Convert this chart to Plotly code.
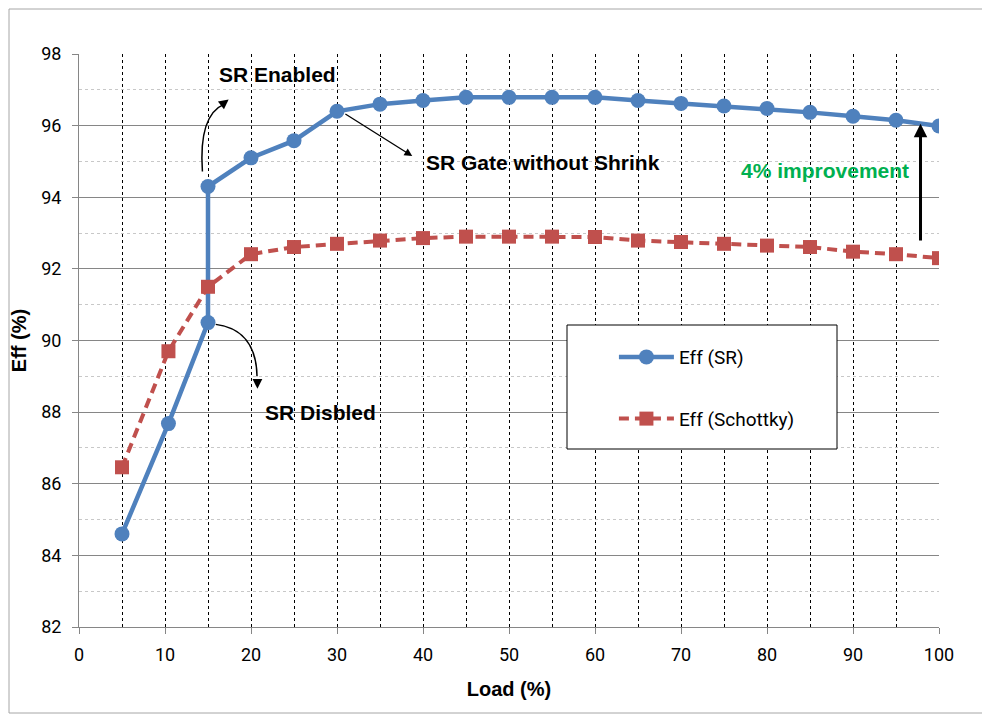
import plotly.graph_objects as go

load_sr = [5, 10.4, 15, 15, 20, 25, 30, 35, 40, 45, 50, 55, 60, 65, 70, 75, 80, 85, 90, 95, 100]
eff_sr = [84.6, 87.68, 90.5, 94.3, 95.1, 95.58, 96.4, 96.6, 96.7, 96.79, 96.79, 96.79, 96.79,
          96.7, 96.62, 96.55, 96.48, 96.37, 96.26, 96.15, 95.99]
load_sch = [5, 10.4, 15, 20, 25, 30, 35, 40, 45, 50, 55, 60, 65, 70, 75, 80, 85, 90, 95, 100]
eff_sch = [86.46, 89.7, 91.5, 92.41, 92.61, 92.7, 92.79, 92.86, 92.9, 92.9, 92.9, 92.89,
           92.79, 92.75, 92.7, 92.65, 92.61, 92.48, 92.41, 92.3]

x_ticks = [0, 10, 20, 30, 40, 50, 60, 70, 80, 90, 100]
y_ticks = [82, 84, 86, 88, 90, 92, 94, 96, 98]

BLUE = "#4f81bd"
RED = "#c0504d"
TICKFONT = dict(family="Roboto, sans-serif", size=18, color="black")
BOLD = dict(family="Liberation Sans, Arial, sans-serif", size=21, color="black")

# page offset (body margin 8px): plot area on page spans x 79..939, y 54..627
OFF = 8
W, H = 990 - OFF, 717 - OFF
PL, PT, PR, PB = 79, 54, 939, 627

def px(x):
    return (x - PL) / (PR - PL)

def py(y):
    return (PB - y) / (PB - PT)

fig = go.Figure()
fig.add_trace(go.Scatter(
    x=load_sr, y=eff_sr, name="Eff (SR)", mode="lines+markers",
    line=dict(color=BLUE, width=4.5),
    marker=dict(symbol="circle", size=15, color=BLUE),
    legendgroup="a"))
fig.add_trace(go.Scatter(
    x=load_sch, y=eff_sch, name="Eff (Schottky)", mode="lines+markers",
    line=dict(color=RED, width=4, dash="10px,6px"),
    marker=dict(symbol="square", size=14, color=RED),
    legendgroup="b"))

fig.update_layout(
    width=W, height=H,
    margin=dict(l=PL - OFF, r=W - (PR - OFF), t=PT - OFF, b=H - (PB - OFF), autoexpand=False),
    paper_bgcolor="white", plot_bgcolor="white",
    showlegend=True,
    legend=dict(x=0.622, y=0.417, xanchor="left", yanchor="middle",
                bgcolor="rgba(0,0,0,0)", borderwidth=0,
                font=dict(family="Roboto, sans-serif", size=19, color="black"),
                traceorder="grouped", tracegroupgap=34, itemwidth=55),
    xaxis=dict(range=[0, 100], tickvals=x_ticks, ticktext=[str(v) for v in x_ticks],
               showgrid=True, gridcolor="black", griddash="dot", gridwidth=1,
               minor=dict(dtick=5, tick0=0, showgrid=True, gridcolor="black", griddash="dot", gridwidth=1),
               showline=True, linecolor="#868686", linewidth=1,
               ticks="outside", ticklen=6, tickcolor="#868686",
               tickfont=TICKFONT, zeroline=False, ticklabelstandoff=5,
               title=dict(text="<b>Load (%)</b>", font=dict(family="Liberation Sans, Arial", size=20, color="black"), standoff=18)),
    yaxis=dict(range=[82, 98], tickvals=y_ticks, ticktext=[str(v) for v in y_ticks],
               showgrid=True, gridcolor="#868686", gridwidth=1,
               minor=dict(dtick=1, tick0=82, showgrid=True, gridcolor="#c8c8c8", griddash="dot", gridwidth=1),
               showline=True, linecolor="#868686", linewidth=1,
               ticks="outside", ticklen=6, tickcolor="#868686",
               tickfont=TICKFONT, zeroline=False, ticklabelstandoff=7,
               title=dict(text="<b>Eff (%)</b>", font=dict(family="Liberation Sans, Arial", size=20, color="black"), standoff=10)),
)

# legend box
fig.add_shape(type="rect", xref="paper", yref="paper",
              x0=px(567), x1=px(837), y0=py(449), y1=py(325),
              line=dict(color="black", width=1), fillcolor="white", layer="above")
# outer frame
fig.add_shape(type="rect", xref="paper", yref="paper",
              x0=px(9), x1=px(986), y0=py(713), y1=py(9),
              line=dict(color="#a6a6a6", width=1), fillcolor="rgba(0,0,0,0)", layer="below")

# curved arrow: SR Enabled
fig.add_shape(type="path", xref="x", yref="y",
              path="M 14.35,94.72 Q 13.9,96.3 16.9,96.6",
              line=dict(color="black", width=1.5))
fig.add_annotation(x=17.4, y=96.73, ax=-9, ay=7, text="", showarrow=True,
                   arrowhead=2, arrowsize=1.3, arrowwidth=1.5, arrowcolor="black")
# curved arrow: SR Disbled
fig.add_shape(type="path", xref="x", yref="y",
              path="M 15.9,90.45 Q 20.6,90.3 20.7,89.0",
              line=dict(color="black", width=1.5))
fig.add_annotation(x=20.75, y=88.65, ax=0, ay=-10, text="", showarrow=True,
                   arrowhead=2, arrowsize=1.3, arrowwidth=1.5, arrowcolor="black")
# straight arrow: SR Gate without Shrink
fig.add_annotation(x=38.75, y=95.15, ax=30.8, ay=96.35, axref="x", ayref="y",
                   text="", showarrow=True, arrowhead=2, arrowsize=1.2,
                   arrowwidth=1.3, arrowcolor="black")
# vertical arrow: 4% improvement
fig.add_annotation(x=97.85, y=96.05, ax=97.85, ay=92.75, axref="x", ayref="y",
                   text="", showarrow=True, arrowhead=2, arrowsize=0.9,
                   arrowwidth=3, arrowcolor="black")

fig.add_annotation(x=23.1, y=97.42, text="<b>SR Enabled</b>", showarrow=False, font=BOLD)
fig.add_annotation(x=54.0, y=94.96, text="<b>SR Gate without Shrink</b>", showarrow=False, font=BOLD)
fig.add_annotation(x=28.1, y=88.0, text="<b>SR Disbled</b>", showarrow=False, font=BOLD)
fig.add_annotation(x=86.7, y=94.74, text="<b>4% improvement</b>", showarrow=False,
                   font=dict(family="Liberation Sans, Arial", size=21, color="#00b050"))

fig.write_html("out.html")
